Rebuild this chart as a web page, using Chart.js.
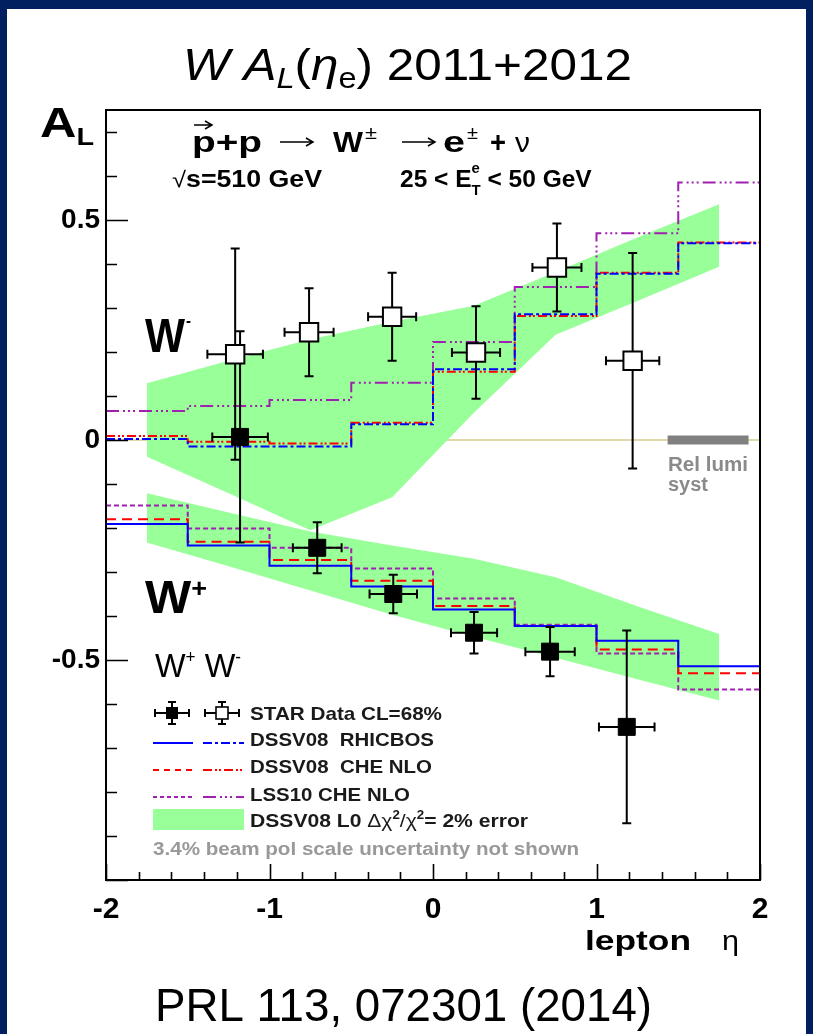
<!DOCTYPE html>
<html>
<head>
<meta charset="utf-8">
<script src="https://cdn.jsdelivr.net/npm/chart.js@4"></script>
<style>
html,body{margin:0;padding:0;background:#002060;width:813px;height:1034px;overflow:hidden;}
#paper{position:absolute;left:7px;top:9px;width:799px;height:1025px;background:#ffffff;}
#c{position:absolute;left:0;top:0;}
</style>
</head>
<body>
<div id="paper"></div>
<canvas id="c" width="813" height="1034"></canvas>
<script>
// ---------------- data ----------------
const binEdges = [-2, -1.5, -1, -0.5, 0, 0.5, 1, 1.5, 2];
// W- theory (dash-dot styles)
const wmDSSVRhicbos = [0.002, -0.015, -0.015, 0.036, 0.161, 0.286, 0.378, 0.447];
const wmDSSVChe     = [0.009, -0.004, -0.008, 0.039, 0.155, 0.282, 0.380, 0.449];
const wmLSS10Che    = [0.066, 0.077, 0.091, 0.130, 0.223, 0.348, 0.470, 0.585];
// W+ theory (solid / dashed styles)
const wpDSSVRhicbos = [-0.191, -0.240, -0.286, -0.333, -0.385, -0.423, -0.456, -0.514];
const wpDSSVChe     = [-0.180, -0.231, -0.273, -0.320, -0.377, -0.423, -0.476, -0.530];
const wpLSS10Che    = [-0.149, -0.201, -0.245, -0.292, -0.360, -0.420, -0.485, -0.567];
// DSSV08 LO error bands
const bandEta  = [-1.75, -1.25, -0.75, -0.25, 0.25, 0.75, 1.25, 1.75];
const wmBandHi = [0.129, 0.180, 0.229, 0.269, 0.305, 0.382, 0.460, 0.536];
const wmBandLo = [-0.038, -0.121, -0.205, -0.130, 0.062, 0.239, 0.316, 0.394];
const wpBandHi = [-0.121, -0.165, -0.208, -0.240, -0.270, -0.312, -0.378, -0.441];
const wpBandLo = [-0.233, -0.287, -0.342, -0.397, -0.447, -0.495, -0.544, -0.592];
// STAR data W- (open squares)
const wmEta  = [-1.21, -0.758, -0.25, 0.263, 0.758, 1.221];
const wmAL   = [0.195, 0.245, 0.280, 0.199, 0.392, 0.180];
const wmErrY = [0.24, 0.10, 0.10, 0.105, 0.10, 0.245];
const wmErrX = [0.17, 0.15, 0.147, 0.147, 0.15, 0.163];
// STAR data W+ (closed squares)
const wpEta  = [-1.18, -0.708, -0.243, 0.251, 0.716, 1.185];
const wpAL   = [0.007, -0.245, -0.350, -0.438, -0.481, -0.652];
const wpErrY = [0.24, 0.058, 0.044, 0.047, 0.056, 0.219];
const wpErrX = [0.17, 0.149, 0.145, 0.141, 0.151, 0.17];
// relative luminosity systematic bar
const relLumiEta = [1.435, 1.93];
const relLumiAL = [0, 0];
// reference line
const zeroEta = [-2, 2];
const zeroAL = [0, 0];
// tick labels
const xTickLabels = [-2, -1, 0, 1, 2];
const yTickLabels = [-0.5, 0, 0.5];

// ---------------- helpers ----------------
const BLUE = '#0000ff', RED = '#ff0000', PURPLE = '#a020b0', GREEN = 'rgb(153,255,153)';
const FAM = '"Liberation Sans", Arial, sans-serif';
function pts(xs, ys) { return xs.map((x, i) => ({x: x, y: ys[i]})); }
function steps(vals) {
  const out = [];
  vals.forEach((v, i) => { out.push({x: binEdges[i], y: v}); out.push({x: binEdges[i + 1], y: v}); });
  return out;
}
function stepDs(vals, color, dash, order) {
  return {data: steps(vals), borderColor: color, borderWidth: 2, borderDash: dash,
          pointRadius: 0, fill: false, tension: 0, order: order};
}
const DASH_WM_BLUE = [9, 3, 3, 3];
const DASH_WM_RED = [9, 3, 2, 2, 2, 3];
const DASH_WM_PURPLE = [13, 4, 2, 3, 2, 3, 2, 4];
const DASH_WP_RED = [10, 6];
const DASH_WP_PURPLE = [5, 3];

function runs(ctx, items, x, y, targetW) {
  let total = 0;
  items.forEach(it => { ctx.font = it.f; it.w = ctx.measureText(it.t).width; total += it.w; });
  const s = targetW ? targetW / total : 1;
  ctx.save();
  ctx.translate(x, y);
  ctx.scale(s, 1);
  ctx.textAlign = 'left';
  ctx.textBaseline = 'alphabetic';
  let cx = 0;
  items.forEach(it => {
    ctx.font = it.f;
    ctx.fillStyle = it.c || '#000';
    ctx.fillText(it.t, cx + (it.dx || 0), it.dy || 0);
    if (!it.noAdvance) cx += it.w;
  });
  ctx.restore();
}
function arrow(ctx, x1, x2, y) {
  ctx.save();
  ctx.strokeStyle = '#000';
  ctx.lineWidth = 1.5;
  ctx.setLineDash([]);
  ctx.beginPath();
  ctx.moveTo(x1, y); ctx.lineTo(x2, y);
  ctx.moveTo(x2 - 7, y - 4); ctx.lineTo(x2, y); ctx.lineTo(x2 - 7, y + 4);
  ctx.stroke();
  ctx.restore();
}

// error bars drawn just before the marker datasets
const errorBars = {
  id: 'errorBars',
  beforeDatasetDraw(chart, args) {
    if (args.index !== 12) return;
    const ctx = chart.ctx, xs = chart.scales.x, ys = chart.scales.y;
    ctx.save();
    ctx.strokeStyle = '#000';
    ctx.lineWidth = 2;
    ctx.setLineDash([]);
    const cap = 4.5;
    function draw(eta, al, ex, ey) {
      for (let i = 0; i < eta.length; i++) {
        const px = xs.getPixelForValue(eta[i]), py = ys.getPixelForValue(al[i]);
        const x1 = xs.getPixelForValue(eta[i] - ex[i]), x2 = xs.getPixelForValue(eta[i] + ex[i]);
        const y1 = ys.getPixelForValue(al[i] + ey[i]), y2 = ys.getPixelForValue(al[i] - ey[i]);
        ctx.beginPath();
        ctx.moveTo(x1, py); ctx.lineTo(x2, py);
        ctx.moveTo(px, y1); ctx.lineTo(px, y2);
        ctx.moveTo(px - cap, y1); ctx.lineTo(px + cap, y1);
        ctx.moveTo(px - cap, y2); ctx.lineTo(px + cap, y2);
        ctx.moveTo(x1, py - cap); ctx.lineTo(x1, py + cap);
        ctx.moveTo(x2, py - cap); ctx.lineTo(x2, py + cap);
        ctx.stroke();
      }
    }
    draw(wmEta, wmAL, wmErrX, wmErrY);
    draw(wpEta, wpAL, wpErrX, wpErrY);
    ctx.restore();
  }
};

// frame + inward ROOT-style ticks
const frameTicks = {
  id: 'frameTicks',
  afterDatasetsDraw(chart) {
    const ctx = chart.ctx, a = chart.chartArea, xs = chart.scales.x, ys = chart.scales.y;
    ctx.save();
    ctx.strokeStyle = '#000';
    ctx.setLineDash([]);
    ctx.lineWidth = 2;
    ctx.strokeRect(a.left, a.top, a.right - a.left, a.bottom - a.top);
    ctx.lineWidth = 1.6;
    ctx.beginPath();
    for (let k = -10; k <= 7; k++) {
      const v = k / 10, py = Math.round(ys.getPixelForValue(v)) + 0.5;
      const len = (k % 5 === 0) ? 22 : 11;
      ctx.moveTo(a.left, py); ctx.lineTo(a.left + len, py);
    }
    for (let k = -10; k <= 10; k++) {
      const v = k / 5, px = Math.round(xs.getPixelForValue(v)) + 0.5;
      const len = (k % 5 === 0) ? 16 : 8;
      ctx.moveTo(px, a.bottom); ctx.lineTo(px, a.bottom - len);
    }
    ctx.stroke();
    ctx.restore();
  }
};

// annotations, legend and titles
const texts = {
  id: 'texts',
  afterDraw(chart) {
    const ctx = chart.ctx;
    ctx.save();
    const F = (s, w, st) => (st || '') + ' ' + (w || 'normal') + ' ' + s + 'px ' + FAM;

    // title
    runs(ctx, [
      {t: 'W', f: F(44, 'normal', 'italic')},
      {t: ' ', f: F(44)},
      {t: 'A', f: F(44, 'normal', 'italic')},
      {t: 'L', f: F(29, 'normal', 'italic'), dy: 8},
      {t: '(', f: F(44)},
      {t: 'η', f: F(44, 'normal', 'italic')},
      {t: 'e', f: F(29), dy: 8},
      {t: ')', f: F(44)},
      {t: ' 2011+2012', f: F(44)}
    ], 183, 80, 449);

    // y axis title A_L
    runs(ctx, [{t: 'A', f: F(42, 'bold')}, {t: 'L', f: F(24, 'bold'), dy: 8}], 40, 137, 54);

    // reaction line
    runs(ctx, [{t: 'p+p', f: F(30, 'bold')}], 192, 152, 70);
    arrow(ctx, 194, 212, 125);
    arrow(ctx, 280, 313, 142);
    runs(ctx, [{t: 'W', f: F(30, 'bold')}], 333, 152, 30);
    runs(ctx, [{t: '±', f: F(18)}], 365, 139, 12);
    arrow(ctx, 402, 435, 142);
    runs(ctx, [{t: 'e', f: F(30, 'bold')}], 443, 152, 22);
    runs(ctx, [{t: '±', f: F(18)}], 467, 139, 11);
    runs(ctx, [{t: '+', f: F(30, 'bold')}], 490, 152, 16);
    runs(ctx, [{t: 'ν', f: F(28)}], 515, 152, 15);

    runs(ctx, [{t: '√', f: F(22)}, {t: 's=510 GeV', f: F(23, 'bold')}], 172, 187, 150);
    runs(ctx, [
      {t: '25 < E', f: F(23, 'bold')},
      {t: 'e', f: F(14, 'bold'), dy: -14, noAdvance: true},
      {t: 'T', f: F(14, 'bold'), dy: 8},
      {t: ' < 50 GeV', f: F(23, 'bold')}
    ], 400, 187, 200);

    // W- and W+ labels
    runs(ctx, [{t: 'W', f: F(49, 'bold')}], 145, 352, 40);
    runs(ctx, [{t: '-', f: F(16, 'bold')}], 186, 326, 5);
    runs(ctx, [{t: 'W', f: F(47, 'bold')}, {t: '+', f: F(26, 'bold'), dy: -16}], 145, 613, 62);

    // legend header W+ W-
    runs(ctx, [{t: 'W', f: F(34)}, {t: '+', f: F(18), dy: -14}, {t: ' W', f: F(34)}, {t: '-', f: F(18), dy: -14}], 155, 677, 86);

    // legend
    const lx = 250;
    const lfont = F(19, 'bold');
    runs(ctx, [{t: 'STAR Data CL=68%', f: lfont, c: '#1a1a1a'}], lx, 720, 192);
    runs(ctx, [{t: 'DSSV08  RHICBOS', f: lfont, c: '#1a1a1a'}], lx, 746, 184);
    runs(ctx, [{t: 'DSSV08  CHE NLO', f: lfont, c: '#1a1a1a'}], lx, 773, 182);
    runs(ctx, [{t: 'LSS10 CHE NLO', f: lfont, c: '#1a1a1a'}], lx, 801, 160);
    runs(ctx, [
      {t: 'DSSV08 L0 ', f: lfont, c: '#1a1a1a'},
      {t: 'Δχ', f: F(19), c: '#1a1a1a'},
      {t: '2', f: F(12, 'bold'), dy: -8, c: '#1a1a1a'},
      {t: '/χ', f: F(19), c: '#1a1a1a'},
      {t: '2', f: F(12, 'bold'), dy: -8, c: '#1a1a1a'},
      {t: '= 2% error', f: lfont, c: '#1a1a1a'}
    ], lx, 827, 278);
    runs(ctx, [{t: '3.4% beam pol scale uncertainty not shown', f: F(18, 'bold'), c: '#999999'}], 153, 855, 426);

    // legend samples
    const seg = (x1, x2, y, col, dash) => {
      ctx.save(); ctx.strokeStyle = col; ctx.lineWidth = 2; ctx.setLineDash(dash); ctx.beginPath();
      ctx.moveTo(x1, y); ctx.lineTo(x2, y); ctx.stroke(); ctx.restore();
    };
    seg(153, 193, 743, BLUE, []);
    seg(203, 244, 743, BLUE, DASH_WM_BLUE);
    seg(153, 193, 770, RED, [6, 5]);
    seg(203, 244, 770, RED, DASH_WM_RED);
    seg(153, 193, 797, PURPLE, [4, 3]);
    seg(203, 244, 797, PURPLE, DASH_WM_PURPLE);
    ctx.fillStyle = GREEN;
    ctx.fillRect(153, 809, 91, 21);
    // legend markers with error bars
    const lm = (cx, cy, open) => {
      ctx.save(); ctx.strokeStyle = '#000'; ctx.lineWidth = 2; ctx.setLineDash([]);
      ctx.beginPath();
      ctx.moveTo(cx - 17, cy); ctx.lineTo(cx + 17, cy);
      ctx.moveTo(cx, cy - 11); ctx.lineTo(cx, cy + 11);
      ctx.moveTo(cx - 17, cy - 4); ctx.lineTo(cx - 17, cy + 4);
      ctx.moveTo(cx + 17, cy - 4); ctx.lineTo(cx + 17, cy + 4);
      ctx.moveTo(cx - 4, cy - 11); ctx.lineTo(cx + 4, cy - 11);
      ctx.moveTo(cx - 4, cy + 11); ctx.lineTo(cx + 4, cy + 11);
      ctx.stroke();
      if (open) { ctx.fillStyle = '#fff'; ctx.fillRect(cx - 6, cy - 6, 12, 12); ctx.lineWidth = 1.6; ctx.strokeRect(cx - 6, cy - 6, 12, 12); }
      else { ctx.fillStyle = '#000'; ctx.fillRect(cx - 6, cy - 6, 12, 12); }
      ctx.restore();
    };
    lm(172, 713, false);
    lm(222, 713, true);

    // rel lumi label
    runs(ctx, [{t: 'Rel lumi', f: F(20, 'bold'), c: '#8a8a8a'}], 668, 471, 80);
    runs(ctx, [{t: 'syst', f: F(20, 'bold'), c: '#8a8a8a'}], 668, 491, 40);

    // x axis title
    runs(ctx, [{t: 'lepton', f: F(28, 'bold')}], 585, 950, 106);
    runs(ctx, [{t: 'η', f: F(28)}], 722, 950, 17);

    // reference
    runs(ctx, [{t: 'PRL 113, 072301 (2014)', f: F(46)}], 155, 1021, 497);
    ctx.restore();
  }
};

// ---------------- chart ----------------
const datasets = [
  {data: pts(zeroEta, zeroAL), borderColor: '#d6cd8c', borderWidth: 1.5, pointRadius: 0, fill: false, order: 100},
  {data: pts(bandEta, wmBandLo), borderColor: 'rgba(0,0,0,0)', borderWidth: 1, pointRadius: 0, fill: false, order: 90},
  {data: pts(bandEta, wmBandHi), borderColor: 'rgba(0,0,0,0)', borderWidth: 1, pointRadius: 0, fill: 1, backgroundColor: GREEN, order: 89},
  {data: pts(bandEta, wpBandLo), borderColor: 'rgba(0,0,0,0)', borderWidth: 1, pointRadius: 0, fill: false, order: 88},
  {data: pts(bandEta, wpBandHi), borderColor: 'rgba(0,0,0,0)', borderWidth: 1, pointRadius: 0, fill: 3, backgroundColor: GREEN, order: 87},
  {data: pts(relLumiEta, relLumiAL), borderColor: '#808080', borderWidth: 9, borderCapStyle: 'butt', pointRadius: 0, fill: false, order: 80},
  stepDs(wpLSS10Che, PURPLE, DASH_WP_PURPLE, 60),
  stepDs(wpDSSVChe, RED, DASH_WP_RED, 59),
  stepDs(wpDSSVRhicbos, BLUE, [], 58),
  stepDs(wmLSS10Che, PURPLE, DASH_WM_PURPLE, 57),
  stepDs(wmDSSVChe, RED, DASH_WM_RED, 56),
  stepDs(wmDSSVRhicbos, BLUE, DASH_WM_BLUE, 55),
  {data: pts(wpEta, wpAL), showLine: false, pointStyle: 'rect', pointRadius: 12, pointBackgroundColor: '#000', pointBorderColor: '#000', pointBorderWidth: 1, order: 2},
  {data: pts(wmEta, wmAL), showLine: false, pointStyle: 'rect', pointRadius: 13, pointBackgroundColor: '#fff', pointBorderColor: '#000', pointBorderWidth: 2, order: 1}
];

new Chart(document.getElementById('c'), {
  type: 'line',
  data: {datasets: datasets},
  options: {
    responsive: false,
    animation: false,
    events: [],
    layout: {padding: {left: 0, top: 110, right: 53, bottom: 0}},
    plugins: {legend: {display: false}, tooltip: {enabled: false}, title: {display: false}},
    scales: {
      x: {
        type: 'linear', min: -2, max: 2,
        border: {display: false},
        grid: {display: false, drawTicks: false},
        afterBuildTicks: s => { s.ticks = xTickLabels.map(v => ({value: v})); },
        afterFit: s => { s.height = 154; },
        ticks: {font: {family: FAM, weight: 'bold', size: 30}, color: '#000', padding: 12,
                maxRotation: 0, autoSkip: false, callback: v => String(v)}
      },
      y: {
        type: 'linear', min: -1, max: 0.75,
        border: {display: false},
        grid: {display: false, drawTicks: false},
        afterBuildTicks: s => { s.ticks = yTickLabels.map(v => ({value: v})); },
        afterFit: s => { s.width = 106; },
        ticks: {font: {family: FAM, weight: 'bold', size: 28}, color: '#000', padding: 6,
                autoSkip: false, callback: v => String(v)}
      }
    }
  },
  plugins: [errorBars, frameTicks, texts]
});
</script>
</body>
</html>
